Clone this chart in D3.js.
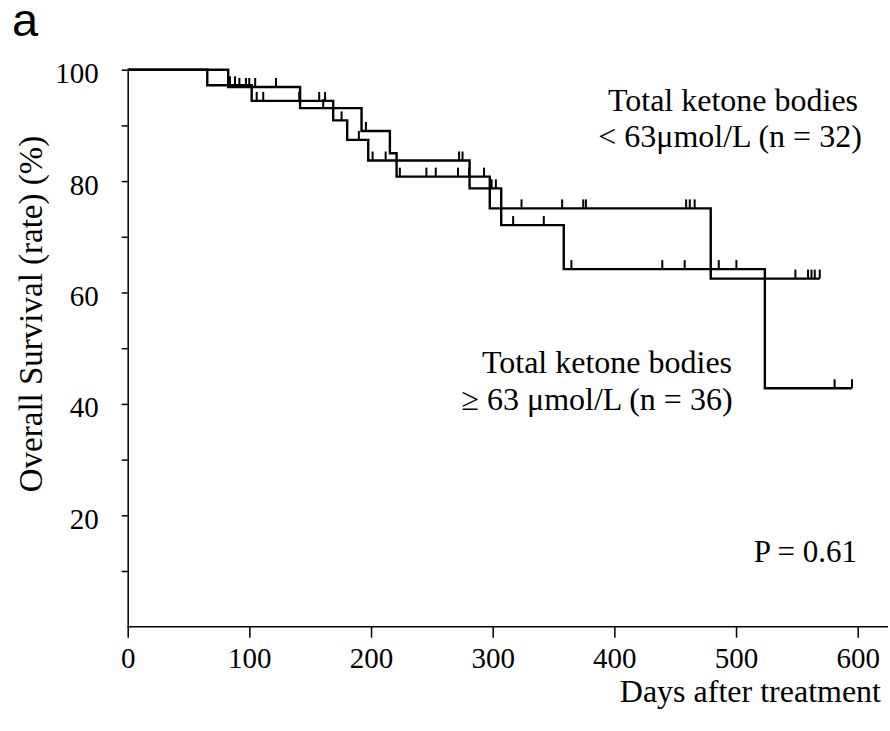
<!DOCTYPE html>
<html>
<head>
<meta charset="utf-8">
<script src="https://cdn.jsdelivr.net/npm/d3@7"></script>
<style>
  body { margin: 0; background: #fff; }
  text { font-family: "Liberation Serif", "Times New Roman", serif; fill: #000; }
</style>
</head>
<body>
<div id="chart-area"></div>
<script>
// x axis ticks (days) and y axis ticks (%)
var xTicks = [0, 100, 200, 300, 400, 500, 600];
var yTicks = [10, 20, 30, 40, 50, 60, 70, 80, 90, 100];
var yLabels = [20, 40, 60, 80, 100];

// Total ketone bodies < 63 umol/L (n = 32)
var lowEventDays = [82.6, 141.7, 192.2, 215.5, 221, 297.6, 479.2];
var lowSurvival = [96.9, 93.1, 89.0, 85.0, 80.8, 75.1, 62.5];
var lowLastDay = 568.8;
var lowCensored = [91.8, 97.2, 99.9, 104.8, 121.9, 160.7, 195.8, 223.7, 245.5, 253.2,
    271.5, 280.6, 292.9, 323.7, 357.1, 374.4, 376.6, 459, 462, 466,
    548.8, 559.2, 562, 564.7, 568.8];

// Total ketone bodies >= 63 umol/L (n = 36)
var highEventDays = [65.4, 101.9, 168.9, 180.4, 197.7, 281, 307, 358.4, 523.7];
var highSurvival = [97.2, 94.4, 90.9, 87.4, 83.7, 78.7, 72.1, 64.2, 42.8];
var highLastDay = 595.3;
var highCensored = [84.1, 88.2, 106, 111.4, 141, 157.4, 162.2, 175.8, 190, 201.3,
    212, 272.4, 275.2, 299.1, 302.6, 316.8, 342, 364.7, 439.4, 457.8,
    485.8, 500.3, 581, 595.3];

var width = 890, height = 731;

var svg = d3.select("#chart-area").append("svg")
    .attr("width", width)
    .attr("height", height);

var xScale = d3.scaleLinear().domain([0, 600]).range([127.7, 857.7]);
var yScale = d3.scaleLinear().domain([0, 100]).range([626.7, 69.7]);

// axes
var xAxis = svg.append("g")
    .attr("transform", "translate(0," + yScale(0) + ")")
    .call(d3.axisBottom(xScale).tickValues(xTicks).tickSize(11).tickSizeOuter(0).tickFormat(d3.format("d")));
xAxis.select(".domain").attr("d", "M" + xScale(0) + ",0H888");
xAxis.selectAll("line").attr("stroke-width", 1.5);
xAxis.select(".domain").attr("stroke-width", 1.5);
xAxis.selectAll("text")
    .attr("y", 0).attr("dy", 0)
    .attr("transform", "translate(0,41)")
    .style("font-size", "29px");

var yAxis = svg.append("g")
    .attr("transform", "translate(" + xScale(0) + ",0)")
    .call(d3.axisLeft(yScale).tickValues(yTicks).tickSize(6).tickSizeOuter(0)
        .tickFormat(function (d) { return yLabels.indexOf(d) >= 0 ? d : ""; }));
yAxis.select(".domain").attr("stroke-width", 1.5);
yAxis.selectAll("line").attr("stroke-width", 1.5);
yAxis.selectAll("text")
    .attr("x", -29).attr("dy", 0)
    .attr("transform", "translate(0,13)")
    .style("font-size", "29px");
svg.selectAll(".domain, .tick line").attr("stroke", "#000");

// step curves
function stepPoints(days, surv, lastDay) {
    var pts = [[0, 100]];
    for (var i = 0; i < days.length; i++) pts.push([days[i], surv[i]]);
    pts.push([lastDay, surv[surv.length - 1]]);
    return pts;
}
function survivalAt(days, surv, t) {
    var s = 100;
    for (var i = 0; i < days.length; i++) if (days[i] <= t) s = surv[i];
    return s;
}

var line = d3.line()
    .x(function (d) { return xScale(d[0]); })
    .y(function (d) { return yScale(d[1]); })
    .curve(d3.curveStepAfter);

var groups = [
    { days: lowEventDays, surv: lowSurvival, last: lowLastDay, cens: lowCensored },
    { days: highEventDays, surv: highSurvival, last: highLastDay, cens: highCensored }
];

groups.forEach(function (g) {
    svg.append("path")
        .datum(stepPoints(g.days, g.surv, g.last))
        .attr("fill", "none")
        .attr("stroke", "#000")
        .attr("stroke-width", 2.4)
        .attr("d", line);

    svg.append("g").selectAll("line")
        .data(g.cens)
        .enter().append("line")
        .attr("x1", function (d) { return xScale(d); })
        .attr("x2", function (d) { return xScale(d); })
        .attr("y1", function (d) { return yScale(survivalAt(g.days, g.surv, d)); })
        .attr("y2", function (d) { return yScale(survivalAt(g.days, g.surv, d)) - 9; })
        .attr("stroke", "#000")
        .attr("stroke-width", 2);
});

// labels
svg.append("text")
    .attr("x", 12).attr("y", 36)
    .style("font-family", "'Liberation Sans', Arial, sans-serif")
    .style("font-size", "47px")
    .text("a");

svg.append("text")
    .attr("transform", "translate(42,314) rotate(-90)")
    .style("text-anchor", "middle")
    .style("font-size", "33px")
    .text("Overall Survival (rate) (%)");

svg.append("text")
    .attr("x", 881).attr("y", 702)
    .style("text-anchor", "end")
    .style("font-size", "32px")
    .text("Days after treatment");

svg.append("text")
    .attr("x", 733).attr("y", 111)
    .style("text-anchor", "middle")
    .style("font-size", "32px")
    .text("Total ketone bodies");
svg.append("text")
    .attr("x", 730).attr("y", 147)
    .style("text-anchor", "middle")
    .style("font-size", "32px")
    .text("< 63\u03bcmol/L (n = 32)");

svg.append("text")
    .attr("x", 607).attr("y", 373)
    .style("text-anchor", "middle")
    .style("font-size", "32px")
    .text("Total ketone bodies");
svg.append("text")
    .attr("x", 597).attr("y", 410)
    .style("text-anchor", "middle")
    .style("font-size", "32px")
    .text("\u2265 63 \u03bcmol/L (n = 36)");

svg.append("text")
    .attr("x", 857).attr("y", 562)
    .style("text-anchor", "end")
    .style("font-size", "31px")
    .text("P = 0.61");
</script>
</body>
</html>
